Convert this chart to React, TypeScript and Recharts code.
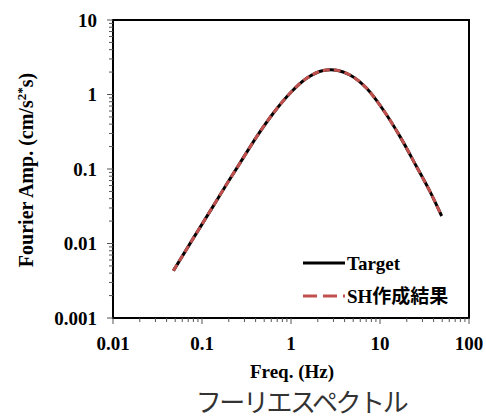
import React from "react";
import {
  LineChart,
  Line,
  XAxis,
  YAxis,
  ReferenceArea,
  Legend,
  Label,
} from "recharts";

// values (log-log Fourier spectrum)
const freqHz = [
  0.0477, 0.08, 0.13, 0.2, 0.267, 0.412, 0.632, 0.975, 1.5, 2.31, 2.8, 3.26,
  4.6, 7.08, 10.9, 16.8, 25.8, 36.5, 49.3,
];
const targetAmp = [
  0.00431, 0.0118, 0.0301, 0.0695, 0.12, 0.272, 0.56, 1.04, 1.65, 2.1, 2.15,
  2.12, 1.83, 1.21, 0.619, 0.272, 0.107, 0.0496, 0.0234,
];
const shAmp = [
  0.00431, 0.0118, 0.0301, 0.0695, 0.12, 0.272, 0.56, 1.04, 1.65, 2.1, 2.15,
  2.12, 1.83, 1.21, 0.619, 0.272, 0.107, 0.0496, 0.0234,
];

const xMajor = [0.01, 0.1, 1, 10, 100];
const xMinor = [
  0.02, 0.03, 0.04, 0.05, 0.06, 0.07, 0.08, 0.09,
  0.2, 0.3, 0.4, 0.5, 0.6, 0.7, 0.8, 0.9,
  2, 3, 4, 5, 6, 7, 8, 9,
  20, 30, 40, 50, 60, 70, 80, 90,
];
const yMajor = [0.001, 0.01, 0.1, 1, 10];
const yMinor = [
  0.002, 0.003, 0.004, 0.005, 0.006, 0.007, 0.008, 0.009,
  0.02, 0.03, 0.04, 0.05, 0.06, 0.07, 0.08, 0.09,
  0.2, 0.3, 0.4, 0.5, 0.6, 0.7, 0.8, 0.9,
  2, 3, 4, 5, 6, 7, 8, 9,
];

const data = freqHz.map((f, i) => ({ f, target: targetAmp[i], sh: shAmp[i] }));

const SERIF = "'Liberation Serif', 'Noto Sans CJK JP', serif";
const RED = "#C0504D";

const XTick = (props: any) => {
  const { x, y, payload } = props;
  const major = xMajor.includes(payload.value);
  return (
    <g>
      <line x1={x} x2={x} y1={y} y2={y + (major ? 6 : 4)} stroke="#555" />
      {major && (
        <text
          x={x}
          y={y + 32}
          textAnchor="middle"
          fontFamily={SERIF}
          fontWeight="bold"
          fontSize={19}
          fill="#000"
        >
          {String(payload.value)}
        </text>
      )}
    </g>
  );
};

const YTick = (props: any) => {
  const { x, y, payload } = props;
  const major = yMajor.includes(payload.value);
  return (
    <g>
      <line x1={x} x2={x - (major ? 6 : 4)} y1={y} y2={y} stroke="#555" />
      {major && (
        <text
          x={x - 16}
          y={y + 6.5}
          textAnchor="end"
          fontFamily={SERIF}
          fontWeight="bold"
          fontSize={19}
          fill="#000"
        >
          {String(payload.value)}
        </text>
      )}
    </g>
  );
};

const LegendBox = () => (
  <svg width={170} height={60} style={{ display: "block" }}>
    <line x1={0} x2={42} y1={12} y2={12} stroke="#000" strokeWidth={3} />
    <text x={44} y={19} fontFamily={SERIF} fontWeight="bold" fontSize={19}>
      Target
    </text>
    <line
      x1={0}
      x2={42}
      y1={45}
      y2={45}
      stroke={RED}
      strokeWidth={3}
      strokeDasharray="14 6"
    />
    <text x={44} y={52} fontFamily={SERIF} fontWeight="bold" fontSize={19}>
      SH作成結果
    </text>
  </svg>
);

export default function App() {
  return (
    <div style={{ position: "absolute", left: 0, top: 0, width: 486, height: 416 }}>
      <LineChart
        width={486}
        height={416}
        data={data}
        margin={{ top: 20, right: 17, left: 0, bottom: 68 }}
      >
        <XAxis
          dataKey="f"
          type="number"
          scale="log"
          domain={[0.01, 100]}
          ticks={[...xMajor, ...xMinor]}
          interval={0}
          tickSize={0}
          tickMargin={0}
          tickLine={false}
          axisLine={false}
          tick={<XTick />}
          height={30}
          allowDataOverflow
        >
          <Label
            content={() => (
              <text
                x={292}
                y={378}
                textAnchor="middle"
                fontFamily={SERIF}
                fontWeight="bold"
                fontSize={19}
              >
                Freq. (Hz)
              </text>
            )}
          />
        </XAxis>
        <YAxis
          type="number"
          scale="log"
          domain={[0.001, 10]}
          ticks={[...yMajor, ...yMinor]}
          interval={0}
          tickSize={0}
          tickMargin={0}
          tickLine={false}
          axisLine={false}
          tick={<YTick />}
          width={113}
          allowDataOverflow
        >
          <Label
            content={() => (
              <text
                transform="translate(33,170) rotate(-90)"
                textAnchor="middle"
                fontFamily={SERIF}
                fontWeight="bold"
                fontSize={20}
              >
                Fourier Amp. (cm/s
                <tspan fontSize={13} dy={-7}>
                  2*
                </tspan>
                <tspan dy={7}>s)</tspan>
              </text>
            )}
          />
        </YAxis>
        <ReferenceArea
          x1={0.01}
          x2={100}
          y1={0.001}
          y2={10}
          fill="none"
          stroke="#000"
          strokeWidth={2}
          ifOverflow="visible"
        />
        <Line
          dataKey="target"
          type="monotone"
          stroke="#000"
          strokeWidth={3}
          dot={false}
          isAnimationActive={false}
        />
        <Line
          dataKey="sh"
          type="monotone"
          stroke={RED}
          strokeWidth={3}
          strokeDasharray="7 4"
          dot={false}
          isAnimationActive={false}
        />
        <Legend
          layout="horizontal"
          verticalAlign="middle"
          align="center"
          content={() => <LegendBox />}
          wrapperStyle={{ position: "absolute", left: 303, top: 251, width: 170 }}
        />
      </LineChart>
      <div
        style={{
          position: "absolute",
          left: 181,
          width: 240,
          top: 388,
          textAlign: "center",
          fontFamily: "'Noto Sans CJK JP', sans-serif",
          fontSize: 26,
          letterSpacing: -2.4,
          lineHeight: "26px",
          color: "#333",
          whiteSpace: "nowrap",
        }}
      >
        フーリエスペクトル
      </div>
    </div>
  );
}
